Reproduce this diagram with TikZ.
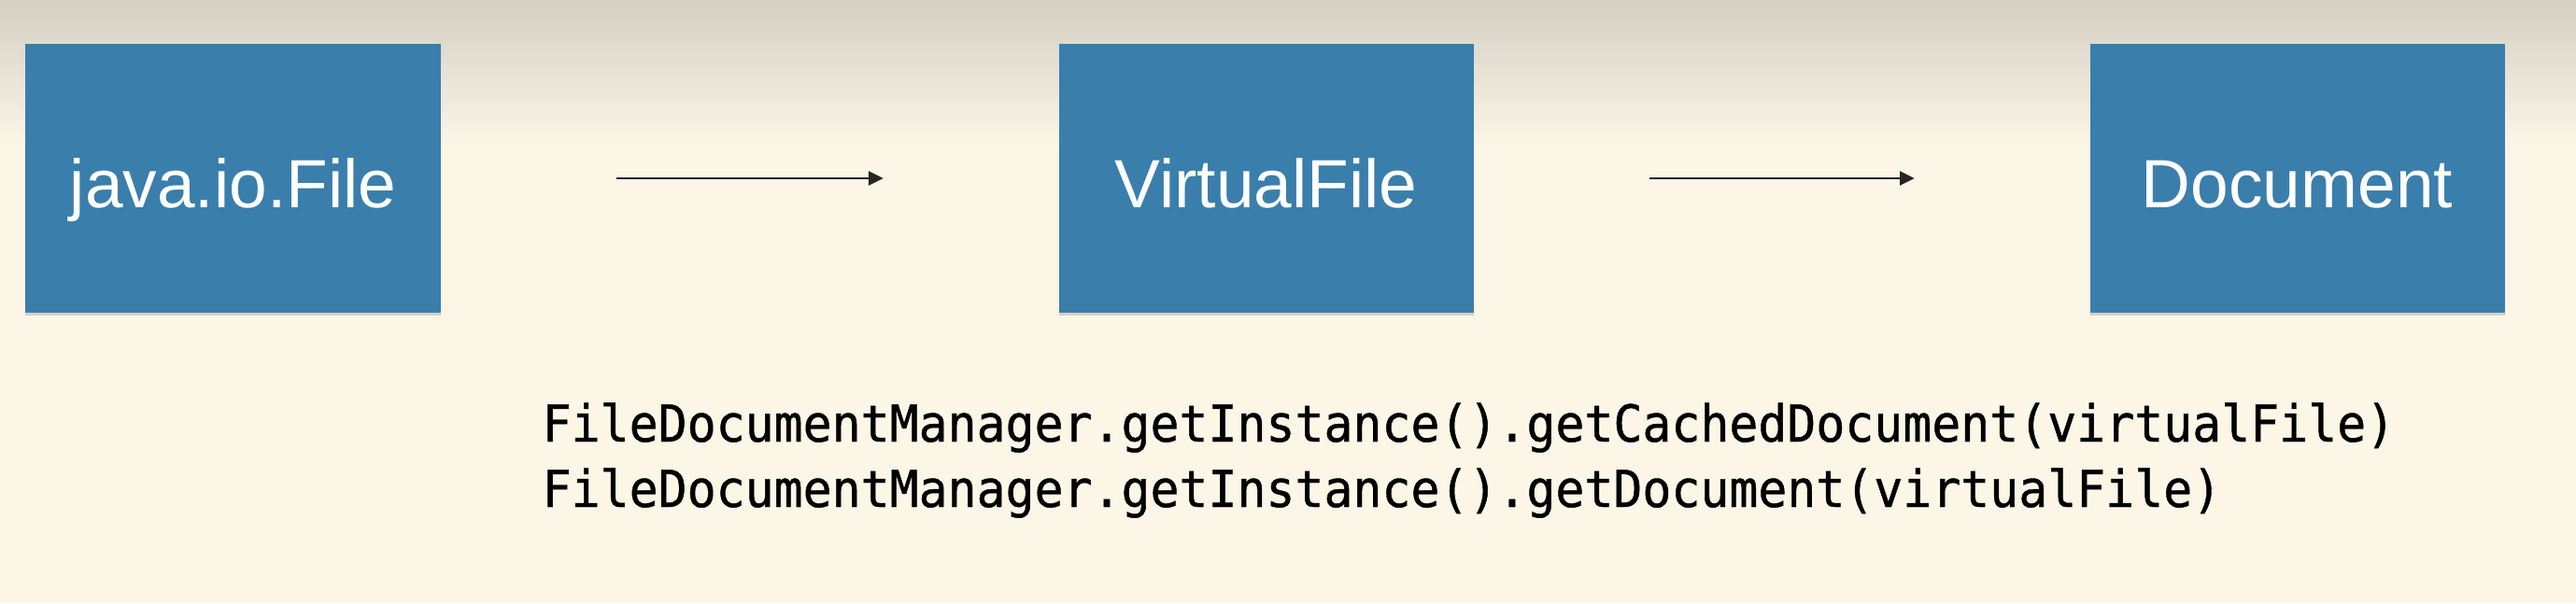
\documentclass[tikz,border=0pt]{standalone}
\usepackage{fontspec}
\setmainfont{Liberation Sans}
\setmonofont[FakeStretch=0.945, FakeBold=0.8]{DejaVu Sans Mono}
\usepackage{tikz}
\usetikzlibrary{arrows.meta, shadows}

\definecolor{paper}{RGB}{252,246,231}
\definecolor{paperTop}{RGB}{211,207,195}
\definecolor{boxBlue}{RGB}{58,126,172}
\definecolor{arrowGray}{RGB}{40,38,34}

\tikzset{
  classbox/.style={fill=boxBlue, text=white, minimum width=4.44cm, minimum height=2.87cm,
    inner sep=0pt, text height=0.63cm, text depth=0pt, font=\fontsize{20.8pt}{24pt}\selectfont,
    drop shadow={shadow xshift=0pt, shadow yshift=-0.03cm, opacity=0.3}},
  link/.style={color=arrowGray, line width=0.85pt,
    -{Triangle[length=4.5pt, width=4.2pt]}, shorten <=1.88cm, shorten >=1.87cm},
  code/.style={inner sep=0pt, anchor=base west, font=\ttfamily\fontsize{15.5pt}{20pt}\selectfont}
}

\begin{document}
\begin{tikzpicture}
\useasboundingbox (0,0) rectangle (27.58,6.46);
% background
\fill[paper] (0,0) rectangle (27.58,6.46);
\shade[top color=paperTop, bottom color=paper] (0,4.9) rectangle (27.58,6.46);

% the three classes
\node[classbox] (javafile) at (2.495,4.55) {java.io.File};
\node[classbox] (virtualfile) at (13.555,4.55) {VirtualFile};
\node[classbox] (document) at (24.595,4.55) {Document};

\draw[link] (javafile) -- (virtualfile);
\draw[link] (virtualfile) -- (document);

% API calls
\node[code] (cachedcall) at (5.8,1.73) {FileDocumentManager.getInstance().getCachedDocument(virtualFile)};
\node[code] (doccall) at (5.8,1.03) {FileDocumentManager.getInstance().getDocument(virtualFile)};
\end{tikzpicture}
\end{document}
